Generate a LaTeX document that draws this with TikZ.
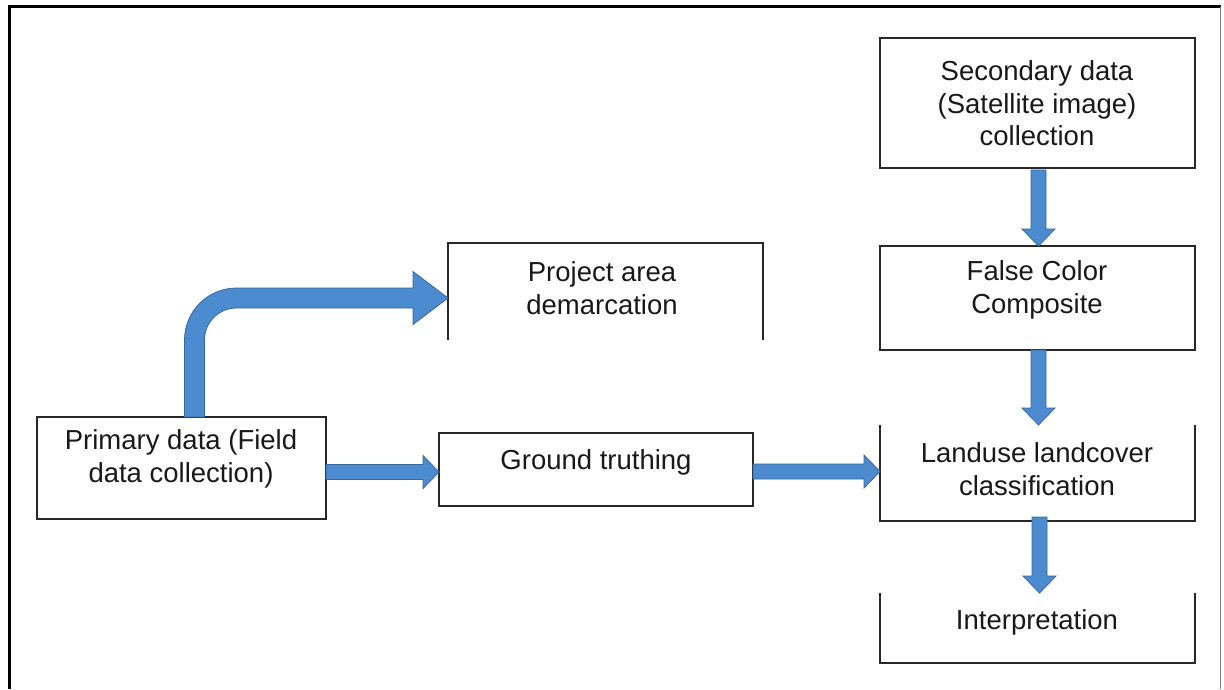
\documentclass[tikz,border=0pt]{standalone}
\usepackage{fontspec}
\setmainfont{Liberation Sans}
\usetikzlibrary{calc}
\definecolor{arrblue}{RGB}{76,139,208}
\definecolor{arredge}{RGB}{58,104,156}
\definecolor{boxline}{RGB}{40,40,40}
\newcommand{\hblock}[2]{\draw[blockarrow] let \p1=(#1), \p2=(#2) in (\x1,\y1+7.5pt) -- (\x2-16pt,\y1+7.5pt) -- (\x2-16pt,\y1+16.5pt) -- (\x2,\y1) -- (\x2-16pt,\y1-16.5pt) -- (\x2-16pt,\y1-7.5pt) -- (\x1,\y1-7.5pt) -- cycle;}
\newcommand{\vblock}[2]{\draw[blockarrow] let \p1=(#1), \p2=(#2) in (\x1-7.5pt,\y1) -- (\x1-7.5pt,\y2+17pt) -- (\x1-16.5pt,\y2+17pt) -- (\x1,\y2) -- (\x1+16.5pt,\y2+17pt) -- (\x1+7.5pt,\y2+17pt) -- (\x1+7.5pt,\y1) -- cycle;}
\begin{document}
\begin{tikzpicture}[x=1pt,y=-1pt,
  frame/.style={draw=boxline, line width=1.2pt},
  boxnode/.style={draw=none, inner sep=0pt, outer sep=0pt},
  lbl/.style={font=\fontsize{27.5}{32.5}\selectfont, align=center, inner sep=0pt, text=black!90},
  blockarrow/.style={fill=arrblue, draw=arredge, line width=0.8pt, line join=miter}]
\useasboundingbox (0,0) rectangle (1224,689);
\fill[white] (0,0) rectangle (1224,689);
\draw[line width=2.2pt] (9.5,689) -- (9.5,6.5) -- (1220.5,6.5);
\draw[gray, line width=1pt] (1220.5,6.5) -- (1220.5,689);

% boxes
\node[boxnode, minimum width=315pt, minimum height=130pt] (sec) at (1037.5,103) {};
\node[boxnode, minimum width=315pt, minimum height=104pt] (fcc) at (1037.5,298) {};
\node[boxnode, minimum width=315pt, minimum height=96pt] (lulc) at (1037.5,473) {};
\node[boxnode, minimum width=315pt, minimum height=70pt] (interp) at (1037.5,628) {};
\node[boxnode, minimum width=315pt, minimum height=97pt] (proj) at (605.5,291.5) {};
\node[boxnode, minimum width=289pt, minimum height=102pt] (prim) at (181.5,468) {};
\node[boxnode, minimum width=314pt, minimum height=73pt] (gt) at (596,469.5) {};

\draw[frame] (sec.north west) rectangle (sec.south east);
\draw[frame] (fcc.north west) rectangle (fcc.south east);
\draw[frame] (lulc.north west) -- (lulc.south west) -- (lulc.south east) -- (lulc.north east);
\draw[frame] (interp.north west) -- (interp.south west) -- (interp.south east) -- (interp.north east);
\draw[frame] (proj.south west) -- (proj.north west) -- (proj.north east) -- (proj.south east);
\draw[frame] (prim.north west) rectangle (prim.south east);
\draw[frame] (gt.north west) rectangle (gt.south east);

% texts
\node[lbl] (sect) at (1037,103.5) {Secondary data\\(Satellite image)\\collection};
\node[lbl] (fcct) at (1037,290) {False Color\\Composite};
\node[lbl] (lulct) at (1037,469) {Landuse landcover\\classification};
\node[lbl] (intt) at (1037,622) {Interpretation};
\node[lbl] (projt) at (602,288) {Project area\\demarcation};
\node[lbl] (primt) at (181,459) {Primary data (Field\\data collection)};
\node[lbl] (gtt) at (596,462) {Ground truthing};

% arrows
\coordinate (a1s) at ([xshift=1pt,yshift=-2pt]sec.south);
\coordinate (a2s) at ([xshift=1pt]fcc.south);
\coordinate (a3s) at ([xshift=2pt,yshift=4pt]lulc.south);
\coordinate (a4s) at ([yshift=-4pt]prim.east);
\coordinate (a5s) at ([yshift=-2pt]gt.east);
\coordinate (a6s) at ([xshift=13pt]prim.north);
\coordinate (a6e) at ([yshift=-6.5pt]proj.west);

\vblock{a1s}{fcc.north}
\vblock{a2s}{lulc.north}
\vblock{a3s}{interp.north}
\hblock{a4s}{gt.west}
\hblock{a5s}{lulc.west}
\draw[blockarrow] let \p1=(a6s), \p2=(a6e) in
  (\x1-10pt,\y1) -- (\x1-10pt,\y2-42pt)
  .. controls (\x1-10pt,\y2-13.3pt) and (\x1+13.3pt,\y2+10pt) .. (\x1+42pt,\y2+10pt)
  -- (\x2-35pt,\y2+10pt) -- (\x2-35pt,\y2+26.5pt) -- (\x2,\y2) -- (\x2-35pt,\y2-26.5pt) -- (\x2-35pt,\y2-10pt)
  -- (\x1+42pt,\y2-10pt)
  .. controls (\x1+24.3pt,\y2-10pt) and (\x1+10pt,\y2-24.3pt) .. (\x1+10pt,\y2-42pt)
  -- (\x1+10pt,\y1) -- cycle;
\end{tikzpicture}
\end{document}
